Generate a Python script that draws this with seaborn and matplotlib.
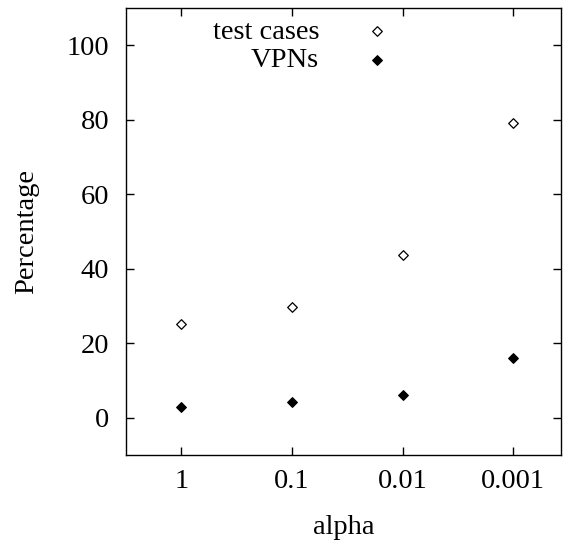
import matplotlib
matplotlib.use('Agg')
import matplotlib.pyplot as plt
import matplotlib.ticker as mticker
import seaborn as sns
import pandas as pd

alpha = [1, 0.1, 0.01, 0.001]
alpha_labels = ['1', '0.1', '0.01', '0.001']
test_cases = [25.1, 29.6, 43.6, 79.1]
vpns = [2.9, 4.2, 6.1, 15.9]

sns.set_style('ticks')
plt.rcParams['font.family'] = ['Liberation Serif', 'DejaVu Serif']
plt.rcParams['text.color'] = 'black'
plt.rcParams['axes.labelcolor'] = 'black'

df_tc = pd.DataFrame({'alpha': alpha, 'pct': test_cases})
df_vp = pd.DataFrame({'alpha': alpha, 'pct': vpns})

fs = 20.5

fig = plt.figure(figsize=(5.63, 5.48), dpi=100)
ax = fig.add_axes([0.224, 0.170, 0.772, 0.815])

sns.scatterplot(data=df_tc, x='alpha', y='pct', ax=ax, marker='D', s=24,
                facecolor='white', edgecolor='black', linewidth=0.9,
                label='test cases')
sns.scatterplot(data=df_vp, x='alpha', y='pct', ax=ax, marker='D', s=24,
                color='black', edgecolor='black', linewidth=0.9,
                label='VPNs')

ax.set_xscale('log')
ax.set_xlim(10 ** 0.5, 10 ** -3.43)
ax.set_ylim(-10, 110)
ax.xaxis.set_major_locator(mticker.FixedLocator(alpha))
ax.xaxis.set_major_formatter(mticker.FixedFormatter(alpha_labels))
ax.xaxis.set_minor_locator(mticker.NullLocator())
ax.set_yticks([0, 20, 40, 60, 80, 100])

for side in ['top', 'right', 'left', 'bottom']:
    ax.spines[side].set_visible(True)
    ax.spines[side].set_linewidth(1.0)
    ax.spines[side].set_color('black')

ax.tick_params(direction='in', length=6, width=1, top=True, right=True,
               labelsize=fs, colors='black')
ax.tick_params(axis='x', pad=10)
ax.tick_params(axis='y', pad=12)

ax.set_xlabel('alpha', fontsize=fs, labelpad=15)
ax.set_ylabel('Percentage', fontsize=fs, labelpad=20)

ax.legend(loc='upper right', bbox_to_anchor=(398 / 563, 1 - 19 / 548),
          bbox_transform=fig.transFigure, frameon=False,
          markerfirst=False, fontsize=fs, handletextpad=1.27,
          labelspacing=0.08, borderaxespad=0, borderpad=0, handlelength=1.5)

fig.savefig('out.png', dpi=100)
